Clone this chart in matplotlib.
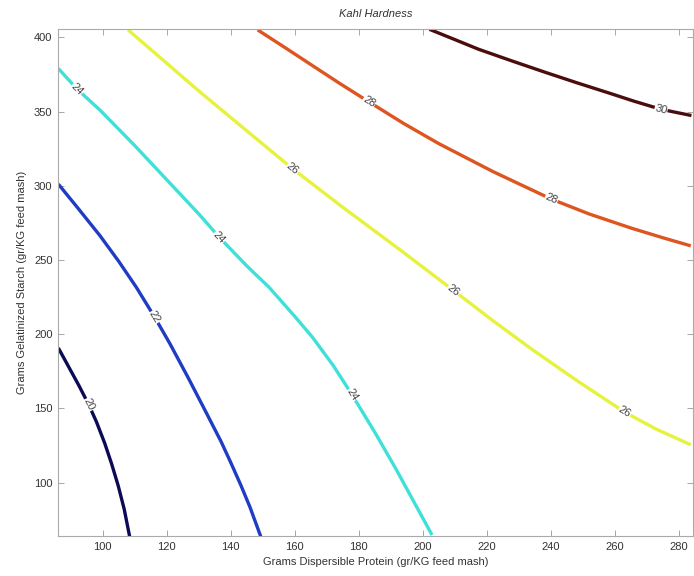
import numpy as np
import matplotlib
matplotlib.use("Agg")
import matplotlib.pyplot as plt

# contour levels, each as (protein, starch) points
levels = [20, 22, 24, 26, 28, 30]
colors = ['#0b0b55', '#1e3cc4', '#3fe0d8', '#e6f23e', '#dd5520', '#4a0c0c']

x20 = [86.1, 89.2, 92.5, 95.6, 98.0, 100.6, 102.7, 104.8, 106.7, 108.4]
y20 = [190.7, 178.5, 165.5, 152.5, 141.0, 126.5, 113.0, 98.0, 82.0, 63.5]

x22 = [86.1, 92.0, 99.1, 105.0, 110.5, 116.2, 121.0, 126.6, 132.0, 137.0, 140.0, 143.2, 146.0, 149.4]
y22 = [301.1, 285.5, 266.4, 249.0, 231.5, 211.5, 193.5, 171.0, 148.5, 127.5, 113.5, 98.0, 83.5, 63.5]

x24 = [86.1, 92.0, 99.1, 110.0, 120.0, 130.0, 136.4, 145.0, 152.0, 160.0,
       165.5, 172.0, 177.9, 185.0, 191.5, 197.0, 202.9]
y24 = [379.0, 365.0, 351.0, 327.0, 304.0, 281.0, 265.3, 246.0, 231.5, 212.0,
       198.0, 179.0, 159.2, 134.0, 109.7, 88.0, 64.7]

x26 = [107.9, 120.0, 130.2, 145.0, 159.3, 175.0, 192.5, 209.6, 222.0, 234.0,
       248.0, 263.1, 273.0, 283.8]
y26 = [405.0, 382.5, 363.5, 337.0, 311.5, 285.5, 257.5, 229.5, 209.0, 190.0,
       169.0, 147.5, 136.0, 125.5]

x28 = [148.4, 157.0, 165.5, 174.0, 183.2, 194.0, 205.0, 222.0, 240.2, 252.0,
       265.1, 275.0, 283.8]
y28 = [405.0, 393.0, 381.0, 369.0, 356.5, 342.0, 328.4, 309.5, 291.0, 281.0,
       271.5, 265.0, 259.5]

x30 = [202.1, 210.0, 217.4, 228.0, 238.2, 248.0, 258.9, 266.0, 274.5, 284.0]
y30 = [405.4, 398.5, 392.0, 384.0, 376.5, 369.5, 362.0, 357.0, 351.5, 347.3]

xs = [x20, x22, x24, x26, x28, x30]
ys = [y20, y22, y24, y26, y28, y30]
# which points carry a level label
label_idx = [[3], [5], [1, 6, 12], [4, 7, 11], [4, 8], [8]]

plt.rcParams['font.family'] = ['Liberation Sans', 'DejaVu Sans']

fig = plt.figure(figsize=(6.94, 5.76), dpi=100)
ax = fig.add_axes([0.0836, 0.0694, 0.915, 0.880])

for lev, c, x, y in zip(levels, colors, xs, ys):
    ax.plot(x, y, color=c, lw=2.4, solid_capstyle='butt',
            solid_joinstyle='round', zorder=2)

ax.set_xlim(86, 284.5)
ax.set_ylim(64, 405.5)
fig.canvas.draw()

# clabel-like text, rotated along the line
for lev, x, y, idx in zip(levels, xs, ys, label_idx):
    pts = ax.transData.transform(np.column_stack([x, y]))
    for i in idx:
        j0, j1 = max(i - 1, 0), min(i + 1, len(x) - 1)
        dx, dy = pts[j1] - pts[j0]
        ang = np.degrees(np.arctan2(dy, dx))
        if ang < -90:
            ang += 180
        if ang > 90:
            ang -= 180
        ax.text(x[i], y[i], str(lev), rotation=ang, rotation_mode='anchor',
                ha='center', va='center', fontsize=8, color='#444444',
                bbox=dict(facecolor='white', edgecolor='none', pad=0.3), zorder=3)

ax.set_xticks(np.arange(100, 281, 20))
ax.set_yticks(np.arange(100, 401, 50))
ax.tick_params(direction='in', length=4, width=0.6, color='#999999',
               labelsize=8, labelcolor='#333333', top=True, right=True, pad=4)
for s in ax.spines.values():
    s.set_color('#aaaaaa')
    s.set_linewidth(0.8)

ax.set_xlabel('Grams Dispersible Protein (gr/KG feed mash)', fontsize=8, color='#333333', labelpad=4)
ax.set_ylabel('Grams Gelatinized Starch (gr/KG feed mash)', fontsize=8, color='#333333', labelpad=5)
ax.set_title('Kahl Hardness', fontsize=8, style='italic', color='#333333', pad=9)

fig.savefig('out.png', dpi=100)
